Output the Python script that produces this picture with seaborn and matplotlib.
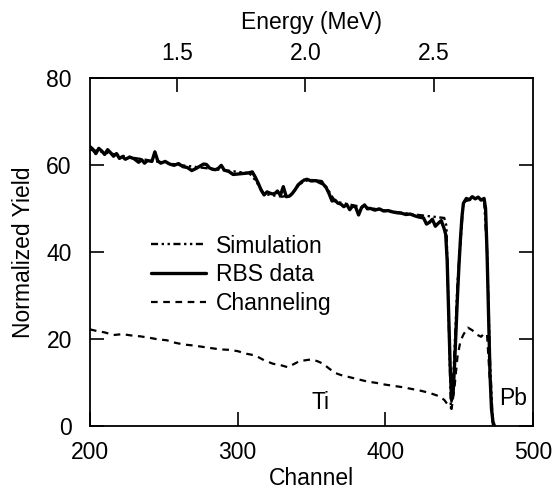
import matplotlib
matplotlib.use("Agg")
import numpy as np
import pandas as pd
import matplotlib.pyplot as plt
import seaborn as sns
from matplotlib.lines import Line2D

# --- DATA ---
rbs_channel = [
    200, 202, 204, 206, 208, 210, 212, 214, 216, 218,
    220, 222, 224, 227, 230, 233, 235, 237, 239, 242,
    244, 246, 248, 251, 254, 257, 260, 263, 266, 269,
    272, 275, 277, 279, 281, 283, 285, 287, 289, 291,
    294, 297, 300, 303, 306, 308, 310, 312, 314, 316,
    318, 320, 322, 324, 326, 327, 329, 331, 333, 335,
    337, 339, 341, 343, 345, 347, 350, 353, 356, 358,
    360, 362, 364, 366, 368, 370, 372, 374, 376, 378,
    380, 382, 384, 386, 388, 390, 393, 396, 399, 402,
    405, 408, 411, 414, 417, 420, 423, 426, 428, 430,
    432, 434, 436, 438, 440, 441, 442, 443, 444, 445,
    446, 447, 448, 449, 450, 451, 452, 453, 455, 457,
    459, 461, 463, 465, 467, 468, 469, 470, 471, 472,
    473, 474,
]
rbs_yield = [
    64.2, 63.6, 62.6, 63.8, 63.2, 62.4, 63.5, 62.8, 62.0, 62.6,
    61.5, 61.9, 61.3, 61.8, 61.4, 60.6, 61.2, 60.4, 61.0, 60.8,
    63.0, 60.9, 60.4, 60.8, 60.2, 59.9, 60.3, 59.6, 59.4, 58.7,
    59.2, 59.8, 60.2, 60.1, 59.3, 59.0, 58.9, 59.2, 59.9, 58.8,
    58.5, 57.8, 57.9, 58.0, 58.1, 58.2, 58.4, 57.2, 55.8, 54.2,
    53.1, 53.8, 53.5, 53.3, 53.6, 54.0, 53.0, 55.0, 52.7, 52.8,
    53.4, 54.3, 55.4, 56.0, 56.5, 56.7, 56.3, 56.4, 55.9, 55.6,
    54.8, 53.4, 51.7, 51.9, 51.2, 51.0, 50.4, 50.9, 49.7, 50.6,
    50.3, 48.5, 50.2, 50.8, 49.9, 50.0, 49.6, 49.9, 49.4, 49.5,
    49.2, 49.0, 48.9, 48.6, 48.7, 48.3, 48.0, 47.8, 46.4, 46.8,
    47.5, 45.9, 46.6, 47.2, 45.3, 44.0, 38.0, 26.0, 14.0, 6.0,
    7.5, 14.0, 22.0, 30.0, 37.0, 43.0, 48.0, 51.2, 52.3, 52.0,
    52.7, 52.2, 52.6, 51.9, 52.3, 50.0, 40.0, 26.0, 12.0, 4.0,
    1.0, 0.0,
]

sim_channel = [200, 230, 260, 290, 308, 312, 318, 330, 336, 342,
               348, 357, 361, 366, 380, 400, 420, 440, 441.5, 443,
               444.5, 446, 449, 453, 460, 467, 469, 471, 473]
sim_yield = [63.5, 61.6, 60.0, 58.8, 58.1, 56.5, 53.3, 52.7, 53.0, 55.6,
             56.6, 56.3, 54.5, 51.6, 50.6, 49.5, 48.6, 47.8, 46.0, 25.0,
             4.0, 10.0, 33.0, 51.5, 52.3, 52.0, 40.0, 15.0, 0.0]

chan_channel = [200, 205, 210, 216, 222, 228, 234, 240, 246, 252,
                258, 264, 270, 276, 282, 288, 294, 300, 306, 312,
                318, 324, 330, 334, 338, 342, 346, 350, 354, 358,
                362, 366, 370, 376, 382, 388, 394, 400, 406, 412,
                418, 424, 430, 436, 440, 443, 445, 447, 449, 451,
                453, 456, 459, 462, 465, 467, 469, 471, 473]
chan_yield = [22.2, 21.8, 21.5, 20.9, 21.1, 20.8, 20.6, 20.3, 19.9, 19.7,
              19.1, 18.7, 18.5, 18.2, 17.9, 17.6, 17.5, 17.2, 16.6, 16.2,
              15.1, 14.3, 13.9, 13.5, 14.2, 14.9, 15.1, 15.3, 14.9, 14.3,
              13.2, 12.2, 11.7, 11.2, 10.7, 10.2, 9.9, 9.5, 9.2, 8.9,
              8.5, 8.1, 7.6, 6.9, 6.0, 4.6, 3.9, 9.0, 16.0, 19.5,
              21.0, 22.6, 22.0, 21.0, 20.5, 21.3, 21.0, 10.0, 0.0]

energy_ticks = [1.5, 2.0, 2.5]
yield_ticks = [0, 20, 40, 60, 80]
channel_ticks = [200, 300, 400, 500]

# energy calibration (MeV) of the channel axis
E_OFFSET = 0.012
E_PER_CH = 0.5 / 87.0


def ch2e(ch):
    return E_OFFSET + np.asarray(ch) * E_PER_CH


def e2ch(e):
    return (np.asarray(e) - E_OFFSET) / E_PER_CH


sns.set_theme(style="ticks")
plt.rcParams['font.family'] = ['Liberation Sans', 'DejaVu Sans']
plt.rcParams['text.color'] = 'black'
plt.rcParams['axes.labelcolor'] = 'black'
plt.rcParams['xtick.color'] = 'black'
plt.rcParams['ytick.color'] = 'black'
FS = 16.5
SIM_DASH = (0, (3, 1.5, 1, 1.5, 1, 1.5))
CHAN_DASH = (0, (3, 2.5))

fig = plt.figure(figsize=(5.55, 4.93), dpi=100)
ax = fig.add_axes([0.162, 0.136, 0.798, 0.706])

rbs_df = pd.DataFrame({"Channel": rbs_channel, "Yield": rbs_yield})
sim_df = pd.DataFrame({"Channel": sim_channel, "Yield": sim_yield})
chan_df = pd.DataFrame({"Channel": chan_channel, "Yield": chan_yield})

sns.lineplot(data=sim_df, x="Channel", y="Yield", ax=ax, color="black",
             lw=1.7, linestyle=SIM_DASH, zorder=3)
sns.lineplot(data=rbs_df, x="Channel", y="Yield", ax=ax, color="black",
             lw=2.4, zorder=2)
sns.lineplot(data=chan_df, x="Channel", y="Yield", ax=ax, color="black",
             lw=1.6, linestyle=CHAN_DASH, zorder=3)

ax.set_xlim(200, 500)
ax.set_ylim(0, 80)
ax.set_xticks(channel_ticks)
ax.set_yticks(yield_ticks)
ax.set_xlabel("Channel", fontsize=FS, labelpad=2)
ax.set_ylabel("Normalized Yield", fontsize=FS, labelpad=8)
ax.tick_params(axis="both", direction="in", length=10, width=1.2,
               labelsize=FS, colors="black")
ax.tick_params(axis="x", pad=11)
ax.tick_params(axis="y", right=True, pad=13)
for s in ax.spines.values():
    s.set_linewidth(1.3)
    s.set_color("black")

sec = ax.secondary_xaxis("top", functions=(ch2e, e2ch))
sec.set_xticks(energy_ticks)
sec.set_xticklabels([f"{e:.1f}" for e in energy_ticks])
sec.tick_params(direction="in", length=10, width=1.2, labelsize=FS, pad=9,
                colors="black")
sec.set_xlabel("Energy (MeV)", fontsize=FS, labelpad=10, color="black")

ax.text(356, 5.5, "Ti", fontsize=FS, ha="center", va="center")
ax.text(486.5, 6.4, "Pb", fontsize=FS, ha="center", va="center")

handles = [
    Line2D([], [], color="black", lw=1.7, linestyle=SIM_DASH),
    Line2D([], [], color="black", lw=2.4),
    Line2D([], [], color="black", lw=1.6, linestyle=CHAN_DASH),
]
ax.legend(handles, ["Simulation", "RBS data", "Channeling"], frameon=False,
          loc="upper left", bbox_to_anchor=(0.138, 0.55), borderaxespad=0,
          borderpad=0, fontsize=FS, handlelength=2.4, handletextpad=0.45,
          labelspacing=0.25)

fig.savefig("out.png", dpi=100)
